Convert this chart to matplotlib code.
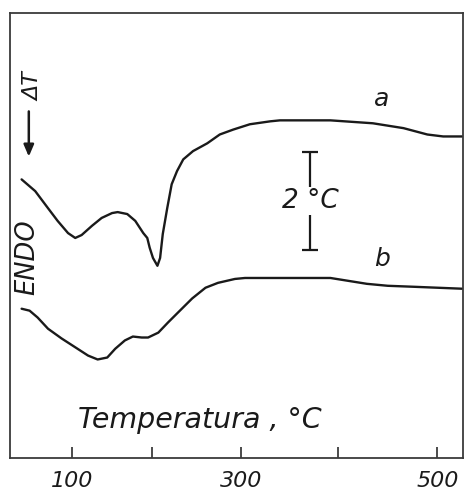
import numpy as np
import matplotlib
matplotlib.use("Agg")
import matplotlib.pyplot as plt

plt.rcParams["font.family"] = ["DejaVu Sans"]

# curva a (temperatura in °C, deflessione in °C)
temp_a = [37, 54, 70, 82, 95, 104, 112, 125, 137, 150, 157, 169, 179, 189,
          194, 197, 201, 206, 209, 212, 217, 222, 228, 235, 246, 262, 276,
          291, 309, 330, 340, 392, 435, 466, 490, 506, 525]
dt_a = [5.71, 5.47, 5.12, 4.86, 4.61, 4.51, 4.57, 4.76, 4.92, 5.02, 5.04,
        5.00, 4.86, 4.61, 4.51, 4.31, 4.10, 3.94, 4.10, 4.59, 5.12, 5.61,
        5.88, 6.12, 6.29, 6.45, 6.63, 6.73, 6.84, 6.90, 6.92, 6.92, 6.86,
        6.76, 6.63, 6.59, 6.59]

# curva b
temp_b = [37, 47, 57, 70, 87, 104, 120, 132, 144, 154, 166, 176, 187, 195,
          207, 218, 229, 245, 260, 274, 293, 304, 323, 392, 429, 450, 476,
          525]
dt_b = [3.06, 3.02, 2.88, 2.65, 2.45, 2.27, 2.10, 2.02, 2.06, 2.24, 2.41,
        2.49, 2.47, 2.47, 2.57, 2.78, 2.98, 3.27, 3.49, 3.59, 3.67, 3.69,
        3.69, 3.69, 3.57, 3.53, 3.51, 3.47]

tick_temps = [100, 200, 300, 400, 500]
tick_labels = ["100", "", "300", "", "500"]

# la scala delle temperature sull'originale non e' lineare
scale_t = np.array([0, 100, 200, 300, 400, 500, 600])
scale_p = np.array([-8, 72, 152, 241, 338, 437, 536])


def fwd(t):
    return np.interp(t, scale_t, scale_p)


def inv(p):
    return np.interp(p, scale_p, scale_t)


fig = plt.figure(figsize=(4.65, 4.92), dpi=100)
ax = fig.add_axes([0.0215, 0.069, 0.9742, 0.9046])
ax.set_xscale("function", functions=(fwd, inv))
ax.set_xlim(22.5, 526)
ax.set_ylim(0, 9.12)

ink = "#1a1a1a"
ax.plot(temp_a, dt_a, color=ink, lw=1.7, solid_joinstyle="round",
        solid_capstyle="round")
ax.plot(temp_b, dt_b, color=ink, lw=1.7, solid_joinstyle="round",
        solid_capstyle="round")

for s in ax.spines.values():
    s.set_color("#3a3a3a")
    s.set_linewidth(1.3)

ax.set_xticks(tick_temps)
ax.set_xticklabels(tick_labels, fontsize=16, style="italic")
ax.tick_params(axis="x", direction="in", length=8, width=1.1, pad=9,
               colors=ink)
ax.set_yticks([])

# barra di scala 2 °C
ax.errorbar([371], [5.27], yerr=[1.0], color=ink, lw=1.6, capsize=6,
            capthick=1.6)
ax.text(371, 5.27, "2 °C", fontsize=19, style="italic", ha="center",
        va="center", color=ink,
        bbox=dict(facecolor="white", edgecolor="none", pad=1))

ax.text(444, 7.35, "a", fontsize=18, style="italic", ha="center",
        va="center", color=ink)
ax.text(444, 4.08, "b", fontsize=18, style="italic", ha="center",
        va="center", color=ink)

ax.annotate("", xy=(46, 6.12), xytext=(46, 7.16),
            arrowprops=dict(arrowstyle="-|>,head_width=0.3,head_length=0.7",
                            color=ink, lw=1.8))
ax.text(52, 7.61, "ΔT", fontsize=16, style="italic", rotation=90,
        ha="center", va="center", color=ink)
ax.text(44, 4.12, "ENDO", fontsize=18.5, style="italic", rotation=90,
        ha="center", va="center", color=ink)

ax.text(inv(78), 0.78, "Temperatura , °C", fontsize=20.5, style="italic",
        ha="left", va="center", color=ink)

fig.savefig("out.png", dpi=100)
